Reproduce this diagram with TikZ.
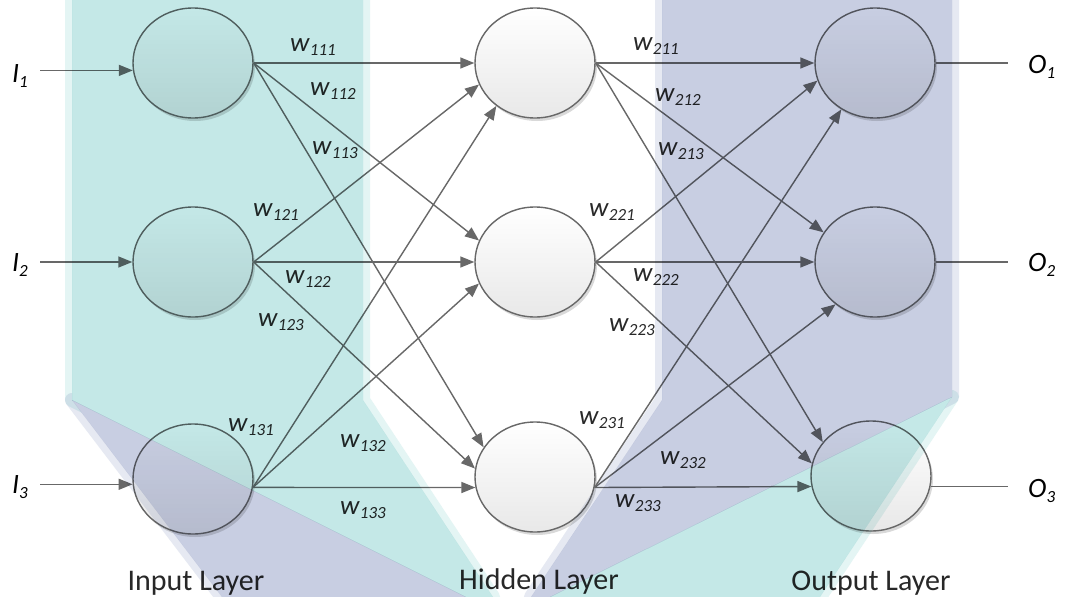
\documentclass[tikz,border=0pt]{standalone}
\usepackage{fontspec}
\setmainfont{Carlito}
\usetikzlibrary{arrows.meta,shapes.geometric,shadows}

\definecolor{tealbg}{RGB}{196,232,231}
\definecolor{lavbg}{RGB}{200,206,226}
\definecolor{linegray}{RGB}{104,104,104}
\definecolor{txtgray}{RGB}{40,40,40}

% italic symbol with a lowered, smaller italic index
\newcommand\sublab[2]{\textit{#1}\raisebox{-4.5pt}{\fontsize{17}{17}\selectfont\itshape #2}}

% outlines of the coloured layer bands
\def\bandTealLeft{(72,0) -- (363,0) -- (363,400) -- (493,597) -- (466,597) -- (72,400) -- cycle}
\def\bandLavLeft{(72,400) -- (222,597) -- (466,597) -- cycle}
\def\bandLavRight{(662,0) -- (952,0) -- (952,397) -- (550,597) -- (531,597) -- (662,400) -- cycle}
\def\bandTealRight{(952,397) -- (820,597) -- (550,597) -- cycle}

\begin{document}
\begin{tikzpicture}[x=1pt,y=-1pt,
  neuron/.style={ellipse, minimum width=120pt, minimum height=110pt, inner sep=0pt,
    draw=linegray, line width=1.4pt, top color=white, bottom color=black!9,
    drop shadow={shadow xshift=2pt,shadow yshift=-3pt,opacity=0.15,fill=black}},
  link/.style={draw=linegray, line width=1.4pt, -{Triangle[length=14pt,width=11pt]}},
  plainlink/.style={draw=linegray, line width=1.4pt},
  wlabel/.style={font=\fontsize{27}{30}\selectfont, text=txtgray, inner sep=0pt},
  iolab/.style={font=\fontsize{28}{30}\selectfont, text=black, inner ysep=0pt},
  layerlab/.style={font=\fontsize{30}{32}\selectfont, text=txtgray, inner sep=0pt},
  glow/.style={line width=14pt, line join=round},
]
\fill[white] (0,0) rectangle (1066,597);
\useasboundingbox (0,0) rectangle (1066,597);

% neurons
\node[neuron] (i1) at (193,63) {};
\node[neuron] (i2) at (193,262) {};
\node[neuron] (i3) at (193,479) {};
\node[neuron] (h1) at (535,63) {};
\node[neuron] (h2) at (535,262) {};
\node[neuron] (h3) at (535,477) {};
\node[neuron] (o1) at (875,63) {};
\node[neuron] (o2) at (875,262) {};
\node[neuron] (o3) at (871,476) {};

% inputs and outputs
\node[iolab, anchor=east, inner xsep=12pt] (I1) at (40,76) {\sublab{I}{1}};
\node[iolab, anchor=east, inner xsep=12pt] (I2) at (40,265) {\sublab{I}{2}};
\node[iolab, anchor=east, inner xsep=12pt] (I3) at (40,487) {\sublab{I}{3}};
\node[iolab, anchor=west, inner xsep=20pt] (O1) at (1008,67) {\sublab{O}{1}};
\node[iolab, anchor=west, inner xsep=20pt] (O2) at (1008,265) {\sublab{O}{2}};
\node[iolab, anchor=west, inner xsep=20pt] (O3) at (1008,491) {\sublab{O}{3}};

\draw[link] (I1.east |- i1.187) -- (i1.187);
\draw[link] (I2.east |- i2.west) -- (i2.west);
\draw[link] (I3.east |- i3.185) -- (i3.185);
\draw[plainlink] (o1.east) -- (o1.east -| O1.west);
\draw[plainlink] (o2.east) -- (o2.east -| O2.west);
\draw[plainlink] (o3.350) -- (o3.350 -| O3.west);

% input -> hidden
\draw[link] (i1.east) -- (h1.west);
\draw[link] (i1.east) -- (h2.159);
\draw[link] (i1.east) -- (h3.150);
\draw[link] (i2.east) -- (h1.201);
\draw[link] (i2.east) -- (h2.west);
\draw[link] (i2.east) -- (h3.172);
\draw[link] (i3.352) -- (h1.228);
\draw[link] (i3.352) -- (h2.201);
\draw[link] (i3.352) -- (h3.190);
% hidden -> output
\draw[link] (h1.east) -- (o1.west);
\draw[link] (h1.east) -- (o2.150);
\draw[link] (h1.east) -- (o3.145);
\draw[link] (h2.east) -- (o1.197);
\draw[link] (h2.east) -- (o2.west);
\draw[link] (h2.east) -- (o3.168);
\draw[link] (h3.350) -- (o1.234);
\draw[link] (h3.350) -- (o2.227);
\draw[link] (h3.350) -- (o3.190);

% weights
\node[wlabel] (w111) at (313,47)  {\sublab{w}{111}};
\node[wlabel] (w112) at (333,91)  {\sublab{w}{112}};
\node[wlabel] (w113) at (335,150) {\sublab{w}{113}};
\node[wlabel] (w121) at (276,212) {\sublab{w}{121}};
\node[wlabel] (w122) at (308,279) {\sublab{w}{122}};
\node[wlabel] (w123) at (281,322) {\sublab{w}{123}};
\node[wlabel] (w131) at (251,427) {\sublab{w}{131}};
\node[wlabel] (w132) at (363,443) {\sublab{w}{132}};
\node[wlabel] (w133) at (363,510) {\sublab{w}{133}};
\node[wlabel] (w211) at (656,46)  {\sublab{w}{211}};
\node[wlabel] (w212) at (678,97)  {\sublab{w}{212}};
\node[wlabel] (w213) at (681,151) {\sublab{w}{213}};
\node[wlabel] (w221) at (612,212) {\sublab{w}{221}};
\node[wlabel] (w222) at (656,277) {\sublab{w}{222}};
\node[wlabel] (w223) at (632,327) {\sublab{w}{223}};
\node[wlabel] (w231) at (602,420) {\sublab{w}{231}};
\node[wlabel] (w232) at (683,460) {\sublab{w}{232}};
\node[wlabel] (w233) at (638,503) {\sublab{w}{233}};

% layer captions
\node[layerlab] (lin)  at (196,583) {Input Layer};
\node[layerlab] (lhid) at (539,581) {Hidden Layer};
\node[layerlab] (lout) at (871,583) {Output Layer};

% coloured layer bands, multiplied over the drawing
\begin{scope}[blend mode=multiply]
  \begin{scope}[even odd rule]
    \clip (-30,-30) rectangle (1096,627)
      \bandTealLeft \bandLavLeft \bandLavRight \bandTealRight;
    \draw[glow, tealbg!45!white] \bandTealLeft;
    \draw[glow, lavbg!45!white] \bandLavLeft;
    \draw[glow, lavbg!45!white] \bandLavRight;
    \draw[glow, tealbg!45!white] \bandTealRight;
  \end{scope}
  \fill[tealbg] \bandTealLeft;
  \fill[lavbg] \bandLavLeft;
  \fill[lavbg] \bandLavRight;
  \fill[tealbg] \bandTealRight;
\end{scope}
\end{tikzpicture}
\end{document}
